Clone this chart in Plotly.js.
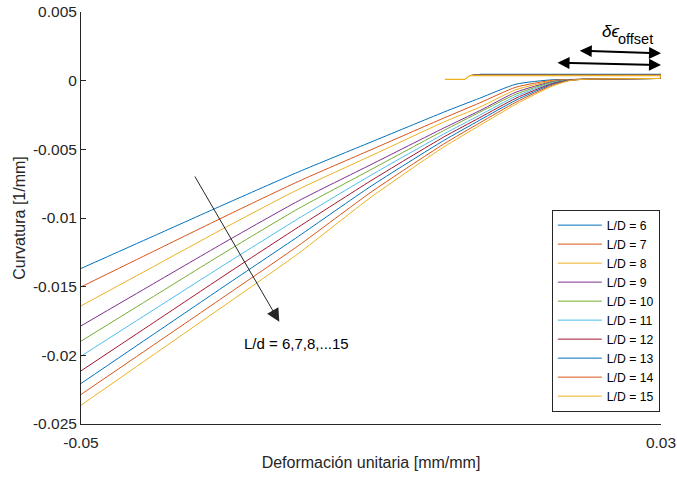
<!DOCTYPE html>
<html>
<head>
<meta charset="utf-8">
<script src="https://cdn.plot.ly/plotly-3.0.1.min.js"></script>
<style>html,body{margin:0;padding:0;background:#fff;}#chart{width:677px;height:477px;}</style>
</head>
<body>
<div id="chart"></div>
<script>
// Strain grid (x) for the loading curves
const strain = [-0.05, -0.04, -0.03, -0.02, -0.01, 0, 0.005, 0.01, 0.015, 0.0175, 0.02, 0.03];

// Curvature [1/mm] for each L/D
const curvLD6  = [-0.013675, -0.011316, -0.008957, -0.006641, -0.004471, -0.002301, -0.001274, -0.000255, 0.0000655, 0.0000874, 0.000109, 0.00016];
const curvLD7  = [-0.015015, -0.012430, -0.009845, -0.007333, -0.005032, -0.002731, -0.001617, -0.000473, 0.0000218, 0.00008, 0.000109, 0.00016];
const curvLD8  = [-0.016399, -0.013537, -0.010668, -0.007908, -0.005469, -0.003022, -0.001930, -0.000655, -0.0000218, 0.0000728, 0.000109, 0.00016];
const curvLD9  = [-0.017855, -0.014782, -0.011716, -0.008753, -0.006110, -0.003459, -0.002185, -0.000837, -0.0000728, 0.0000655, 0.000109, 0.00016];
const curvLD10 = [-0.018969, -0.015714, -0.012459, -0.009313, -0.006474, -0.003641, -0.002294, -0.000983, -0.000109, 0.0000583, 0.000109, 0.00016];
const curvLD11 = [-0.020061, -0.016690, -0.013326, -0.010034, -0.006881, -0.003896, -0.002512, -0.001129, -0.00016, 0.000051, 0.000109, 0.00016];
const curvLD12 = [-0.021132, -0.017622, -0.014105, -0.010653, -0.007282, -0.004114, -0.002694, -0.001274, -0.000211, 0.0000437, 0.000109, 0.00016];
const curvLD13 = [-0.022049, -0.018467, -0.014884, -0.011330, -0.007682, -0.004369, -0.002876, -0.001420, -0.000269, 0.0000364, 0.000109, 0.00016];
const curvLD14 = [-0.022850, -0.019246, -0.015634, -0.012008, -0.008119, -0.004624, -0.003073, -0.001566, -0.000328, 0.0000291, 0.000109, 0.00016];
const curvLD15 = [-0.023630, -0.019959, -0.016289, -0.012576, -0.008483, -0.004842, -0.003262, -0.001711, -0.000401, 0.0000146, 0.000109, 0.00016];

const seriesNames = ['L/D = 6','L/D = 7','L/D = 8','L/D = 9','L/D = 10','L/D = 11','L/D = 12','L/D = 13','L/D = 14','L/D = 15'];

// Offset (return) branches near zero curvature
const branchX = [
  [0.03, 0.03, 0.0050],
  [0.03, 0.03, 0.0046],
  [0.03, 0.03, 0.0044],
  [0.03, 0.03, 0.0042],
  [0.03, 0.03, 0.0041],
  [0.03, 0.03, 0.0040],
  [0.03, 0.03, 0.0040],
  [0.03, 0.03, 0.0039],
  [0.03, 0.03, 0.0038],
  [0.03, 0.03, 0.0036, 0.0029, 0.0002]
];
const branchY = [
  [0.00016, 0.00046, 0.00046],
  [0.00016, 0.00042, 0.00042],
  [0.00016, 0.00040, 0.00040],
  [0.00016, 0.00040, 0.00040],
  [0.00016, 0.00040, 0.00040],
  [0.00016, 0.00039, 0.00039],
  [0.00016, 0.00039, 0.00039],
  [0.00016, 0.00038, 0.00038],
  [0.00016, 0.00038, 0.00038],
  [0.00016, 0.00036, 0.00036, 0.00009, 0.00009]
];

const xTickVals = [-0.05, 0.03];
const xTickText = ['-0.05', '0.03'];
const yTickVals = [-0.025, -0.02, -0.015, -0.01, -0.005, 0, 0.005];
const yTickText = ['-0.025', '-0.02', '-0.015', '-0.01', '-0.005', '0', '0.005'];

const colors = ['#0072BD','#D95319','#EDB120','#7E2F8E','#77AC30','#4DBEEE','#A2142F','#0072BD','#D95319','#EDB120'];
const curves = [curvLD6, curvLD7, curvLD8, curvLD9, curvLD10, curvLD11, curvLD12, curvLD13, curvLD14, curvLD15];

const traces = [];
curves.forEach((c, i) => {
  traces.push({
    x: strain, y: c, type: 'scatter', mode: 'lines', name: seriesNames[i],
    legendgroup: 'g' + i,
    line: {color: colors[i], width: 1, shape: 'spline', smoothing: 0.6}
  });
});
curves.forEach((c, i) => {
  traces.push({
    x: branchX[i], y: branchY[i], type: 'scatter', mode: 'lines', name: seriesNames[i],
    legendgroup: 'g' + i, showlegend: false, hoverinfo: 'skip',
    line: {color: colors[i], width: 1.2}
  });
});

const txt = '#262626';
const layout = {
  width: 677, height: 477,
  margin: {l: 81, r: 16, t: 12, b: 53, pad: 0},
  paper_bgcolor: '#ffffff', plot_bgcolor: '#ffffff',
  font: {family: 'Liberation Sans, Arial, sans-serif', size: 16, color: txt},
  showlegend: true,
  legend: {
    x: 0.998, y: 0.03, xanchor: 'right', yanchor: 'bottom',
    bordercolor: txt, borderwidth: 1, bgcolor: '#ffffff',
    font: {size: 12.2, color: '#000000'}, itemwidth: 44, tracegroupgap: 0
  },
  xaxis: {
    range: [-0.05, 0.03], tickvals: xTickVals, ticktext: xTickText,
    ticks: 'inside', ticklen: 5, tickcolor: txt, showline: true, linecolor: txt, linewidth: 1,
    showgrid: false, zeroline: false, mirror: false, tickfont: {size: 15.5}, ticklabelstandoff: 4,
    title: {text: 'Deformación unitaria [mm/mm]', standoff: 7, font: {size: 16}}
  },
  yaxis: {
    range: [-0.025, 0.005], tickvals: yTickVals, ticktext: yTickText,
    ticks: 'inside', ticklen: 5, tickcolor: txt, showline: true, linecolor: txt, linewidth: 1,
    showgrid: false, zeroline: false, mirror: false, tickfont: {size: 15.5},
    title: {text: 'Curvatura [1/mm]', standoff: 3, font: {size: 16}}
  },
  annotations: [
    {x: 0.0300, y: 0.001993, ax: 0.01859, ay: 0.002182, xref: 'x', yref: 'y', axref: 'x', ayref: 'y',
     text: '', showarrow: true, arrowside: 'end+start', arrowhead: 2, startarrowhead: 2,
     arrowsize: 1.2, startarrowsize: 1.2, arrowwidth: 2, arrowcolor: '#000', standoff: 0, startstandoff: 0},
    {x: 0.0300, y: 0.001141, ax: 0.01552, ay: 0.001308, xref: 'x', yref: 'y', axref: 'x', ayref: 'y',
     text: '', showarrow: true, arrowside: 'end+start', arrowhead: 2, startarrowhead: 2,
     arrowsize: 1.2, startarrowsize: 1.2, arrowwidth: 2, arrowcolor: '#000', standoff: 0, startstandoff: 0},
    {x: 0.02303, y: 0.00358, xref: 'x', yref: 'y', text: '<i>δϵ</i>', showarrow: false,
     font: {size: 17, color: '#000'}},
    {x: 0.02655, y: 0.00307, xref: 'x', yref: 'y', text: 'offset', showarrow: false,
     font: {size: 14.5, color: '#000'}},
    {x: -0.022648, y: -0.017552, ax: -0.034414, ay: -0.006869, xref: 'x', yref: 'y', axref: 'x', ayref: 'y',
     text: '', showarrow: true, arrowhead: 2, arrowsize: 2.6, arrowwidth: 1, arrowcolor: '#262626', standoff: 0},
    {x: -0.020345, y: -0.019103, xref: 'x', yref: 'y', text: 'L/d = 6,7,8,...15', showarrow: false,
     font: {size: 15, color: '#000'}}
  ]
};

Plotly.newPlot('chart', traces, layout, {displayModeBar: false, staticPlot: true});
</script>
</body>
</html>
